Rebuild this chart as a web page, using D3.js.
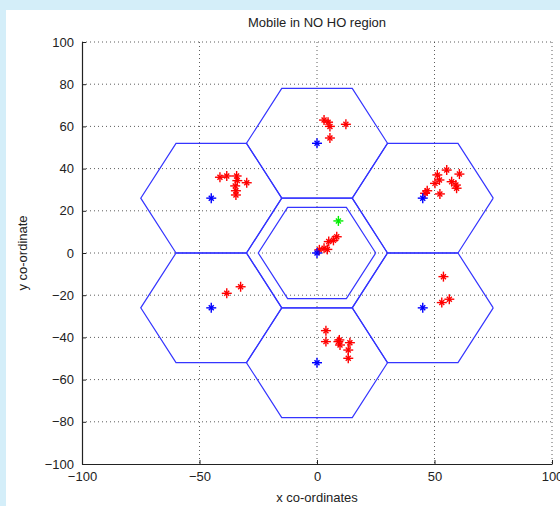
<!DOCTYPE html>
<html>
<head>
<meta charset="utf-8">
<script src="https://cdn.jsdelivr.net/npm/d3@7"></script>
<style>
  body { margin: 0; background: #d4eef9; }
  svg { display: block; }
  text { font-family: "Liberation Sans", Arial, sans-serif; fill: #222; }
</style>
</head>
<body>
<div id="chart"></div>
<script>
const xTicks = [-100, -50, 0, 50, 100];
const yTicks = [-100, -80, -60, -40, -20, 0, 20, 40, 60, 80, 100];

// cell centres (hexagon centres = base stations)
const cellX = [0, 0, 0, -45, 45, -45, 45];
const cellY = [0, 52, -52, 26, 26, -26, -26];
const cellRadius = 30;
const innerRadius = 25;

// mobiles
const redX = [1, 3, 5, 4.4, 7, 8.4,
  3, 4.7, 5.5, 5.5, 12.3,
  -41.3, -38.4, -34.2, -33.9, -34.8, -34.5, -34.5, -29.9,
  55.2, 60.6, 52.1, 51.2, 57.3, 59.1, 59.4, 46.9, 46, 52.3, 50.2,
  -38.4, -32.5,
  3.8, 3.8, 9.1, 9.8, 9.5, 14, 13.3, 13.3,
  53.8, 53.1, 56.3];
const redY = [1.5, 2.2, 5.4, 1.7, 6, 7.7,
  63, 62, 60, 54.5, 61,
  35.9, 36.5, 36.5, 34.3, 31.8, 29.5, 27.5, 33.3,
  39.3, 37.4, 34.6, 37, 33.8, 32.2, 30.7, 29.5, 28.3, 28, 33,
  -19.1, -16,
  -36.8, -42, -42, -43.6, -41.2, -42.5, -46, -49.9,
  -11.2, -23.5, -21.9];
const greenX = [9.1];
const greenY = [15.2];

const width = 560, height = 506;
const plotLeft = 82, plotRight = 552, plotTop = 42, plotBottom = 464;

const svg = d3.select('#chart').append('svg')
  .attr('width', width)
  .attr('height', height);

svg.append('rect')
  .attr('x', 6).attr('y', 10)
  .attr('width', width - 6).attr('height', height - 10)
  .attr('fill', '#ffffff');

const x = d3.scaleLinear().domain([-100, 100]).range([plotLeft, plotRight]);
const y = d3.scaleLinear().domain([-100, 100]).range([plotBottom, plotTop]);

// grid
svg.append('g').selectAll('line')
  .data(xTicks.slice(1))
  .enter().append('line')
  .attr('x1', d => x(d)).attr('x2', d => x(d))
  .attr('y1', plotTop).attr('y2', plotBottom)
  .attr('stroke', '#333').attr('stroke-width', 0.8)
  .attr('stroke-dasharray', '1,3');

svg.append('g').selectAll('line')
  .data(yTicks.slice(1))
  .enter().append('line')
  .attr('x1', plotLeft).attr('x2', plotRight)
  .attr('y1', d => y(d)).attr('y2', d => y(d))
  .attr('stroke', '#333').attr('stroke-width', 0.8)
  .attr('stroke-dasharray', '1,3');

// hexagons
const hexPoints = (cx, cy, r) => d3.range(7).map(i => {
  const a = Math.PI / 3 * i;
  return [cx + r * Math.cos(a), cy + r * Math.sin(a)];
});
const line = d3.line().x(d => x(d[0])).y(d => y(d[1]));

const hexes = cellX.map((cx, i) => hexPoints(cx, cellY[i], cellRadius));
hexes.push(hexPoints(cellX[0], cellY[0], innerRadius));

svg.append('g').selectAll('path')
  .data(hexes)
  .enter().append('path')
  .attr('d', line)
  .attr('fill', 'none')
  .attr('stroke', '#3535ff')
  .attr('stroke-width', 1.2);

// markers
const star = (g, xs, ys, color) => {
  const pts = xs.map((v, i) => [v, ys[i]]);
  const m = g.append('g').selectAll('g')
    .data(pts)
    .enter().append('g')
    .attr('transform', d => 'translate(' + x(d[0]) + ',' + y(d[1]) + ')')
    .attr('stroke', color)
    .attr('stroke-width', 1.4);
  m.append('line').attr('x1', -5).attr('x2', 5).attr('y1', 0).attr('y2', 0);
  m.append('line').attr('x1', 0).attr('x2', 0).attr('y1', -5).attr('y2', 5);
  m.append('line').attr('x1', -2.5).attr('x2', 2.5).attr('y1', -2.5).attr('y2', 2.5);
  m.append('line').attr('x1', -2.5).attr('x2', 2.5).attr('y1', 2.5).attr('y2', -2.5);
};

star(svg, redX, redY, '#ff0000');
star(svg, cellX, cellY, '#0000ff');
star(svg, greenX, greenY, '#00ee00');

// axes
const xAxis = d3.axisBottom(x).tickValues(xTicks).tickSizeInner(-4).tickSizeOuter(0).tickPadding(8);
const yAxis = d3.axisLeft(y).tickValues(yTicks).tickSizeInner(-4).tickSizeOuter(0).tickPadding(8);

const gx = svg.append('g')
  .attr('transform', 'translate(0,' + plotBottom + ')')
  .call(xAxis);
const gy = svg.append('g')
  .attr('transform', 'translate(' + plotLeft + ',0)')
  .call(yAxis);

[gx, gy].forEach(g => {
  g.select('.domain').attr('stroke', '#222').attr('stroke-width', 1.2);
  g.selectAll('.tick line').attr('stroke', '#222');
  g.selectAll('.tick text').attr('font-size', 13).attr('fill', '#222')
    .attr('font-family', '"Liberation Sans", Arial, sans-serif');
});

svg.append('text')
  .attr('x', x(0)).attr('y', 27)
  .attr('text-anchor', 'middle')
  .attr('font-size', 13)
  .text('Mobile in NO HO region');

svg.append('text')
  .attr('x', x(0)).attr('y', 502)
  .attr('text-anchor', 'middle')
  .attr('font-size', 13)
  .text('x co-ordinates');

svg.append('text')
  .attr('transform', 'translate(27,' + y(0) + ') rotate(-90)')
  .attr('text-anchor', 'middle')
  .attr('font-size', 13)
  .text('y co-ordinate');
</script>
</body>
</html>
